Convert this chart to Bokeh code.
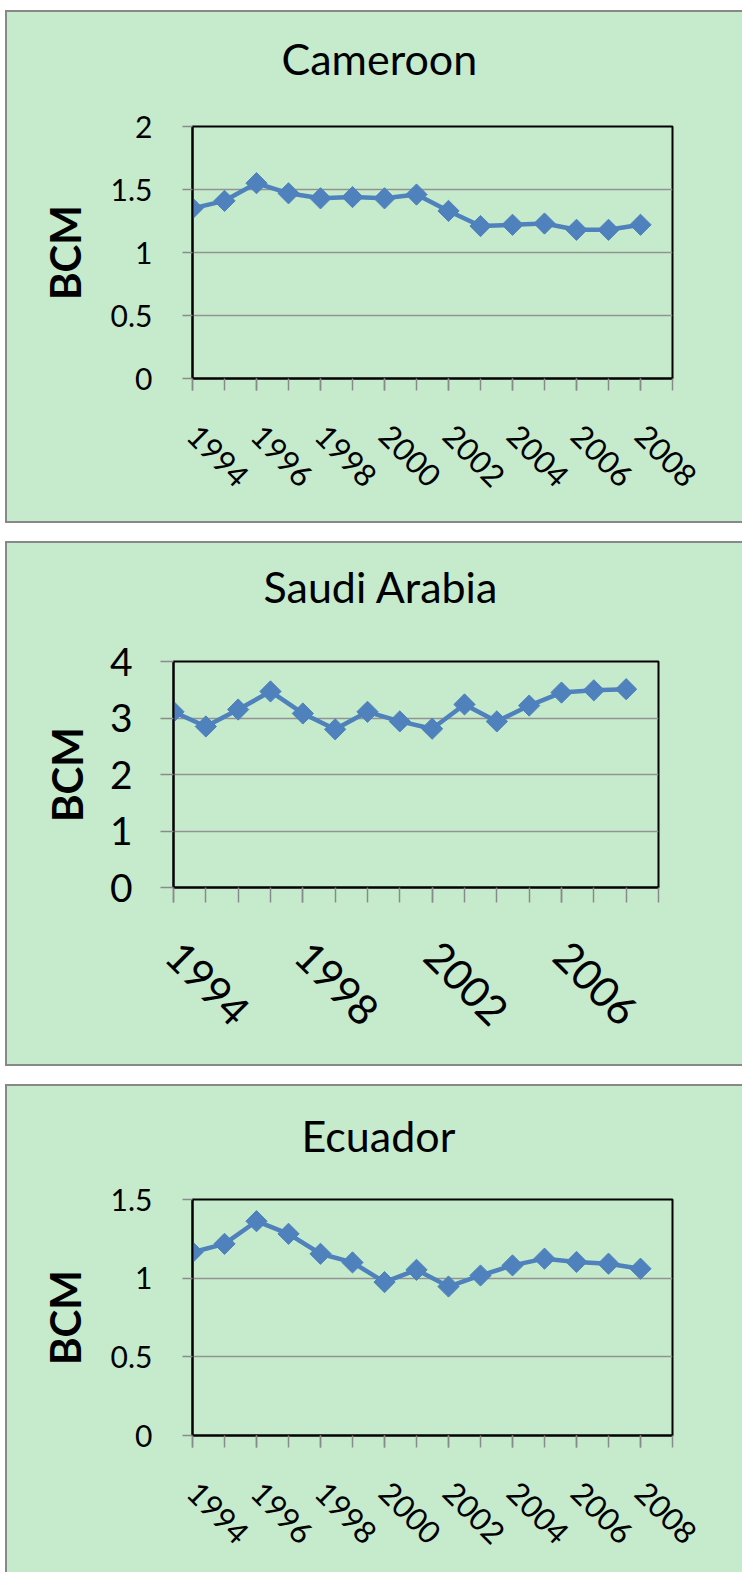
import numpy as np
from bokeh.plotting import figure
from bokeh.models import Range1d, FixedTicker, NumeralTickFormatter, Title, Spacer
from bokeh.layouts import column, row
from bokeh.embed import file_html
from bokeh.resources import INLINE

# ---------------- data ----------------
years = [1994, 1995, 1996, 1997, 1998, 1999, 2000, 2001, 2002, 2003, 2004, 2005, 2006, 2007, 2008]
x_tick_marks = [1994, 1995, 1996, 1997, 1998, 1999, 2000, 2001, 2002, 2003, 2004, 2005, 2006, 2007, 2008, 2009]

cameroon = [1.35, 1.41, 1.55, 1.47, 1.43, 1.44, 1.43, 1.46, 1.33, 1.21, 1.22, 1.23, 1.18, 1.18, 1.22]
saudi_arabia = [3.11, 2.85, 3.15, 3.47, 3.08, 2.80, 3.11, 2.94, 2.81, 3.24, 2.94, 3.22, 3.45, 3.49, 3.51]
ecuador = [1.165, 1.218, 1.362, 1.282, 1.155, 1.10, 0.975, 1.053, 0.947, 1.017, 1.081, 1.124, 1.103, 1.092, 1.06]

cameroon_yticks = [0, 0.5, 1, 1.5, 2]
saudi_yticks = [0, 1, 2, 3, 4]
ecuador_yticks = [0, 0.5, 1, 1.5]

cameroon_xlabels = [1994, 1996, 1998, 2000, 2002, 2004, 2006, 2008]
saudi_xlabels = [1994, 1998, 2002, 2006]
ecuador_xlabels = [1994, 1996, 1998, 2000, 2002, 2004, 2006, 2008]

# ---------------- style ----------------
GREEN = "#c6ebcc"
BLUE = "#4f81bd"
TICK_GRAY = "#8a8a8a"
GRID_GRAY = "#939393"
BORDER_GRAY = "#888888"
FONT = "Lato"


def make_panel(title, vals, yticks, xlabels, cfg, bottom_border=True):
    shadow = "inset 2px 0 0 0 %s, inset 0 2px 0 0 %s" % (BORDER_GRAY, BORDER_GRAY)
    if bottom_border:
        shadow += ", inset 0 -2px 0 0 %s" % BORDER_GRAY
    p = figure(frame_width=cfg["fw"], frame_height=cfg["fh"],
               min_border_left=cfg["l"], min_border_right=cfg["r"],
               min_border_top=cfg["t"], min_border_bottom=cfg["b"],
               x_range=Range1d(x_tick_marks[0], x_tick_marks[-1]),
               y_range=Range1d(yticks[0], yticks[-1]),
               title=None,
               output_backend="svg", toolbar_location=None, tools="",
               styles={"background-color": GREEN, "box-shadow": shadow})
    p.border_fill_alpha = 0
    p.background_fill_alpha = 0
    p.outline_line_color = "black"
    p.outline_line_width = 2

    # gap between plot area and chart title, then the title itself
    p.add_layout(Title(text=" ", text_font_size="2px", standoff=cfg["gap"]), "above")
    p.add_layout(Title(text=title, align="left", offset=cfg["toff"], standoff=0,
                       text_font=FONT, text_font_size="43px",
                       text_font_style="normal", text_color="black"), "above")

    # grid
    p.xgrid.visible = False
    p.ygrid.ticker = FixedTicker(ticks=yticks)
    p.ygrid.grid_line_color = GRID_GRAY
    p.ygrid.grid_line_width = 1.5

    # x axis
    xa = p.xaxis[0]
    xa.ticker = FixedTicker(ticks=xlabels, minor_ticks=x_tick_marks)
    xa.axis_line_color = "black"
    xa.axis_line_width = 2
    xa.major_tick_in = 0
    xa.major_tick_out = cfg["xt"]
    xa.minor_tick_in = 0
    xa.minor_tick_out = cfg["xt"]
    xa.major_tick_line_color = TICK_GRAY
    xa.minor_tick_line_color = TICK_GRAY
    xa.major_tick_line_width = 1.5
    xa.minor_tick_line_width = 1.5
    xa.major_label_orientation = -np.pi / 4
    xa.major_label_text_font = FONT
    xa.major_label_text_font_size = cfg["xfs"]
    xa.major_label_text_color = "black"
    xa.major_label_standoff = cfg["xso"]

    # y axis
    ya = p.yaxis[0]
    ya.ticker = FixedTicker(ticks=yticks)
    ya.formatter = NumeralTickFormatter(format="0.[0]")
    ya.axis_line_color = "black"
    ya.axis_line_width = 2
    ya.major_tick_in = 0
    ya.major_tick_out = cfg["yt"]
    ya.minor_tick_in = 0
    ya.minor_tick_out = 0
    ya.major_tick_line_color = TICK_GRAY
    ya.major_tick_line_width = 1.5
    ya.major_label_text_font = FONT
    ya.major_label_text_font_size = cfg["yfs"]
    ya.major_label_text_color = "black"
    ya.major_label_standoff = cfg["yso"]
    ya.axis_label = "BCM"
    ya.axis_label_text_font = FONT
    ya.axis_label_text_font_style = "bold"
    ya.axis_label_text_font_size = "42px"
    ya.axis_label_text_color = "black"
    ya.axis_label_standoff = cfg["alo"]

    # data
    p.line(years, vals, line_color=BLUE, line_width=4.5)
    p.scatter(years, vals, marker="square", angle=np.pi / 4, size=15,
              fill_color=BLUE, line_color=BLUE)
    return p


cam_cfg = dict(l=187, fw=480, r=70, t=116, fh=252, b=145, xt=12, yt=10,
               xfs="31px", yfs="30px", xso=40, yso=30, alo=18, toff=89, gap=39)
sau_cfg = dict(l=168, fw=485, r=84, t=120, fh=226, b=179, xt=15, yt=13,
               xfs="42px", yfs="39px", xso=46, yso=28, alo=15, toff=90, gap=46)
ecu_cfg = dict(l=187, fw=480, r=70, t=115, fh=236, b=137, xt=12, yt=10,
               xfs="31px", yfs="30px", xso=40, yso=30, alo=18, toff=109, gap=35)

p1 = make_panel("Cameroon", cameroon, cameroon_yticks, cameroon_xlabels, cam_cfg)
p2 = make_panel("Saudi Arabia", saudi_arabia, saudi_yticks, saudi_xlabels, sau_cfg)
p3 = make_panel("Ecuador", ecuador, ecuador_yticks, ecuador_xlabels, ecu_cfg, bottom_border=False)

panels = column(Spacer(width=742, height=10),
                row(Spacer(width=5, height=513), p1),
                Spacer(width=742, height=18),
                row(Spacer(width=5, height=525), p2),
                Spacer(width=742, height=18),
                row(Spacer(width=5, height=488), p3))

open("out.html", "w").write(file_html(panels, INLINE))
